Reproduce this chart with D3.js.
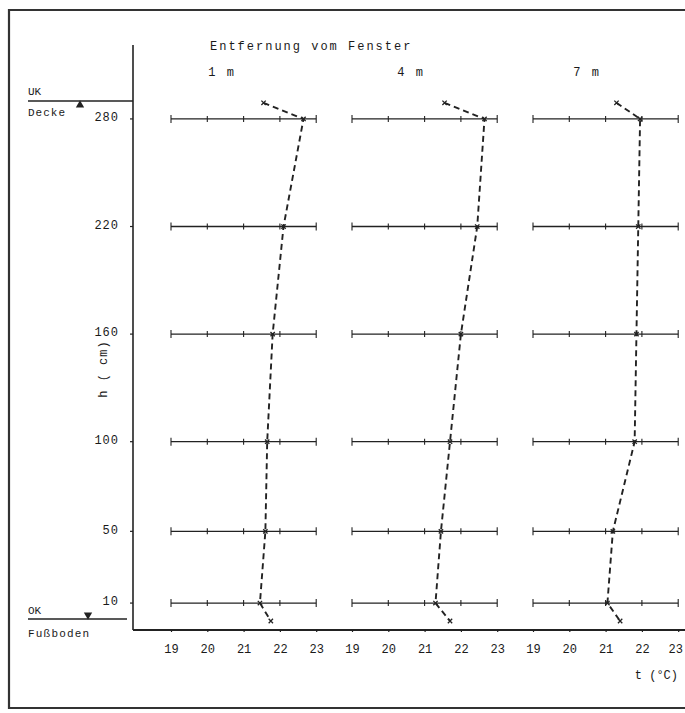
<!DOCTYPE html>
<html>
<head>
<meta charset="utf-8">
<script src="https://cdn.jsdelivr.net/npm/d3@7"></script>
<style>
  body { margin: 0; background: #fff; }
  text { font-family: "Liberation Mono", "DejaVu Sans Mono", monospace; fill: #1a1a1a; }
</style>
</head>
<body>
<div id="chart"></div>
<script>
// Measured heights (cm) and temperatures (°C) per distance from window
var distances = ["1 m", "4 m", "7 m"];
var rowHeights = [280, 220, 160, 100, 50, 10];
var profileHeights = [289, 280, 220, 160, 100, 50, 10, 0];
var temps1m = [21.55, 22.65, 22.1, 21.8, 21.65, 21.6, 21.45, 21.75];
var temps4m = [21.55, 22.65, 22.45, 22.0, 21.7, 21.45, 21.3, 21.7];
var temps7m = [21.3, 21.95, 21.9, 21.85, 21.8, 21.2, 21.05, 21.4];
var tempTicks = [19, 20, 21, 22, 23];
var profiles = [temps1m, temps4m, temps7m];

var width = 685, height = 713;
var ink = "#222";

var svg = d3.select("#chart").append("svg")
    .attr("width", width)
    .attr("height", height);

// frame
svg.append("path")
    .attr("d", "M685,10 L9,10 L9,708 L685,708")
    .attr("fill", "none")
    .attr("stroke", "#333")
    .attr("stroke-width", 2.2);

// height scale
var y = d3.scaleLinear().domain([0, 290]).range([621, 101]);

// one temperature scale per panel
var panelStart = [171, 352, 533];
var xScales = panelStart.map(function(x0) {
    return d3.scaleLinear().domain([19, 23]).range([x0, x0 + 145.2]);
});

var axisX = 133, axisY = 630;

// axes lines
svg.append("line")
    .attr("x1", axisX).attr("x2", axisX)
    .attr("y1", 45).attr("y2", axisY)
    .attr("stroke", ink).attr("stroke-width", 1.6);
svg.append("line")
    .attr("x1", axisX).attr("x2", 685)
    .attr("y1", axisY).attr("y2", axisY)
    .attr("stroke", ink).attr("stroke-width", 2);

// y ticks and labels
rowHeights.forEach(function(h) {
    svg.append("line")
        .attr("x1", axisX - 3).attr("x2", axisX)
        .attr("y1", y(h)).attr("y2", y(h))
        .attr("stroke", ink).attr("stroke-width", 1.2);
    svg.append("text")
        .attr("x", 119)
        .attr("y", y(h) - 2)
        .attr("dy", "0.35em")
        .attr("text-anchor", "end")
        .attr("font-size", 12)
        .attr("letter-spacing", 1)
        .text(h);
});

// y axis title
svg.append("text")
    .attr("transform", "translate(107,369) rotate(-90)")
    .attr("text-anchor", "middle")
    .attr("font-size", 12)
    .attr("letter-spacing", 1)
    .text("h ( cm)");

// ceiling / floor markers
svg.append("line")
    .attr("x1", 28).attr("x2", axisX)
    .attr("y1", y(290)).attr("y2", y(290))
    .attr("stroke", ink).attr("stroke-width", 1.3);
svg.append("path")
    .attr("d", d3.symbol().type(d3.symbolTriangle).size(30)())
    .attr("transform", "translate(80," + (y(290) + 4) + ")")
    .attr("fill", ink);
svg.append("text").attr("x", 28).attr("y", 95).attr("font-size", 11).text("UK");
svg.append("text").attr("x", 28).attr("y", 116).attr("font-size", 11).attr("letter-spacing", 1).text("Decke");

var floorY = 619;
svg.append("line")
    .attr("x1", 28).attr("x2", 127)
    .attr("y1", floorY).attr("y2", floorY)
    .attr("stroke", ink).attr("stroke-width", 1.3);
svg.append("path")
    .attr("d", d3.symbol().type(d3.symbolTriangle).size(30)())
    .attr("transform", "translate(88," + (floorY - 4) + ") rotate(180)")
    .attr("fill", ink);
svg.append("text").attr("x", 28).attr("y", 614).attr("font-size", 11).text("OK");
svg.append("text").attr("x", 28).attr("y", 637).attr("font-size", 11).attr("letter-spacing", 1.2).text("Fußboden");

// titles
svg.append("text")
    .attr("x", 210).attr("y", 50)
    .attr("font-size", 12)
    .attr("letter-spacing", 2)
    .text("Entfernung vom Fenster");

distances.forEach(function(d, i) {
    svg.append("text")
        .attr("x", xScales[i](20) + 1 + (i === 1 ? 8 : i === 2 ? 3 : 0))
        .attr("y", 76)
        .attr("font-size", 12)
        .attr("letter-spacing", 2)
        .text(d);
});

var line = d3.line();

xScales.forEach(function(x, i) {
    var g = svg.append("g");

    // bottom axis per panel
    var xAxis = d3.axisBottom(x).tickValues(tempTicks).tickFormat(d3.format("d"))
        .tickSize(3).tickPadding(12);
    var ax = g.append("g")
        .attr("transform", "translate(0," + (axisY - 1) + ")")
        .call(xAxis);
    ax.select(".domain").remove();
    ax.selectAll(".tick line").attr("stroke", ink).attr("stroke-width", 1.2);
    ax.selectAll(".tick text")
        .attr("font-family", "Liberation Mono, DejaVu Sans Mono, monospace")
        .attr("font-size", 12)
        .attr("fill", "#1a1a1a")
        .attr("dx", function(t) { return (i === 2 && t === 23) ? -3 : 0; });

    // horizontal measuring rows
    rowHeights.forEach(function(h) {
        g.append("line")
            .attr("x1", x(19)).attr("x2", x(23))
            .attr("y1", y(h)).attr("y2", y(h))
            .attr("stroke", ink).attr("stroke-width", 1.3);
        g.selectAll(null)
            .data(tempTicks)
            .enter().append("line")
            .attr("x1", function(t) { return x(t); })
            .attr("x2", function(t) { return x(t); })
            .attr("y1", function(t) { return y(h) - (t === 19 || t === 23 ? 4 : 3); })
            .attr("y2", function(t) { return y(h) + (t === 19 || t === 23 ? 4 : 3); })
            .attr("stroke", ink).attr("stroke-width", 1.1);
    });

    // dashed temperature profile
    var pts = profileHeights.map(function(h, j) { return [x(profiles[i][j]), y(h)]; });
    g.append("path")
        .attr("d", line(pts))
        .attr("fill", "none")
        .attr("stroke", ink)
        .attr("stroke-width", 1.9)
        .attr("stroke-dasharray", "6,4");

    g.selectAll(".pt")
        .data(pts)
        .enter().append("path")
        .attr("class", "pt")
        .attr("d", d3.symbol().type(d3.symbolX).size(14)())
        .attr("transform", function(p) { return "translate(" + p[0] + "," + p[1] + ")"; })
        .attr("stroke", ink)
        .attr("stroke-width", 1.3);
});

// x axis title
svg.append("text")
    .attr("x", 678).attr("y", 679)
    .attr("text-anchor", "end")
    .attr("font-size", 12)
    .text("t (°C)");
</script>
</body>
</html>
